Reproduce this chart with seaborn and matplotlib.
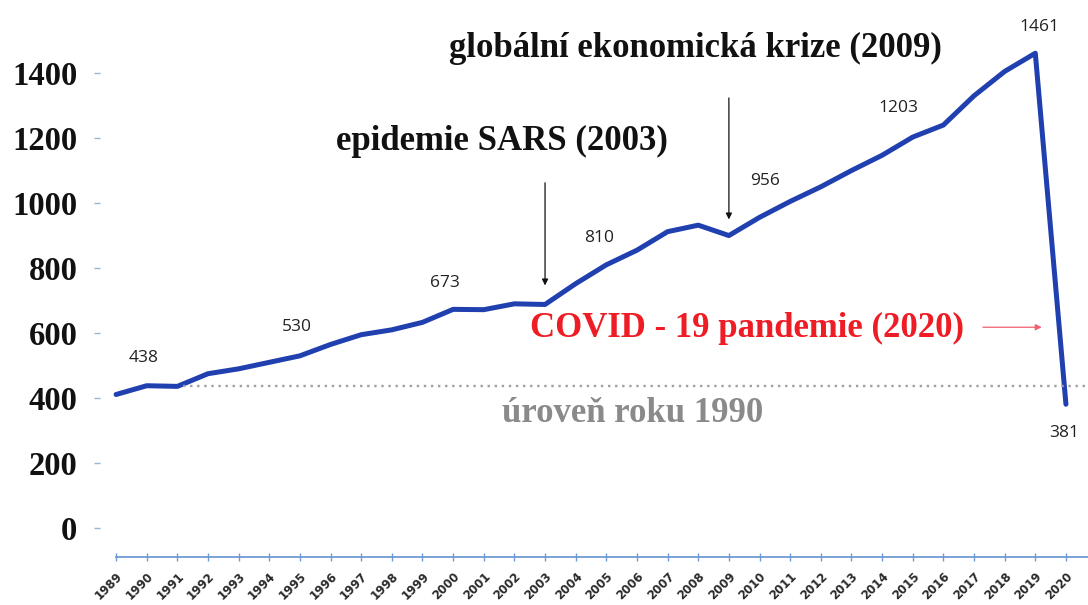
import numpy as np
import pandas as pd
import seaborn as sns
import matplotlib.pyplot as plt

years = list(range(1989, 2021))
values = [411, 438, 436, 475, 490, 510, 530, 565, 595, 610, 633, 673, 672, 690, 688,
          752, 810, 855, 912, 932, 900, 956, 1005, 1050, 1100, 1147, 1203, 1240, 1330,
          1405, 1461, 381]
labeled_years = [1990, 1995, 2000, 2005, 2010, 2015, 2019, 2020]
baseline = 438
y_ticks = [0, 200, 400, 600, 800, 1000, 1200, 1400]

df = pd.DataFrame({'Rok': years, 'Hodnota': values})

sns.set_style('white')
plt.rcParams['font.family'] = ['DejaVu Sans']

fig = plt.figure(figsize=(10.88, 6.05), dpi=100)
ax = fig.add_axes([0.0864, 0.0793, 0.9136, 0.9074])

sns.lineplot(data=df, x='Rok', y='Hodnota', ax=ax, color='#2140b0', linewidth=3.6,
             solid_capstyle='round', solid_joinstyle='round')

ax.set_xlim(1988.28, 2020.72)
ax.set_ylim(-89, 1600)

# baseline 1990
ax.plot([1991.2, 2020.72], [baseline, baseline], linestyle=(0, (1, 2)), color='#a0a0a0', linewidth=1.7)

# spines and ticks
for s in ['left', 'top', 'right']:
    ax.spines[s].set_visible(False)
ax.spines['bottom'].set_bounds(1989, 2020.72)
ax.spines['bottom'].set_color('#6f9ad6')
ax.spines['bottom'].set_linewidth(1.3)

ax.set_xticks(years)
ax.set_xticklabels([str(y) for y in years], rotation=45, ha='right', rotation_mode='anchor',
                   fontsize=8.5, fontweight='bold', color='#2a2a2a')
ax.tick_params(axis='x', bottom=True, direction='inout', length=6, width=1, color='#6f9ad6', pad=6)

ax.set_yticks(y_ticks)
ax.set_yticklabels([str(v) for v in y_ticks], family='Liberation Serif', fontweight='bold',
                   fontsize=23.5, color='#111111')
ax.tick_params(axis='y', direction='in', length=4.5, width=1, color='#9bb4d8', left=True, pad=12)
ax.set_xlabel('')
ax.set_ylabel('')

# data labels
offsets = {1990: (-2, 20), 1995: (-2, 21), 2000: (-6, 19), 2005: (-5, 19), 2010: (4, 26),
           2015: (-10, 21), 2019: (3, 19), 2020: (-1, -21)}
for y in labeled_years:
    v = values[years.index(y)]
    ax.annotate(str(v), (y, v), xytext=offsets[y], textcoords='offset points',
                ha='center', va='center', fontsize=12.5, family='Open Sans', color='#222222')

serif = 'Liberation Serif'
ax.text(2007.9, 1475, 'globální ekonomická krize (2009)', family=serif, fontweight='bold',
        fontsize=25, ha='center', va='center', color='#111111')
ax.annotate('', xy=(2009, 941), xytext=(2009, 1332),
            arrowprops=dict(arrowstyle='-|>', color='#111111', lw=0.9, mutation_scale=9))

ax.text(2001.6, 1190, 'epidemie SARS (2003)', family=serif, fontweight='bold',
        fontsize=25, ha='center', va='center', color='#111111')
ax.annotate('', xy=(2003, 738), xytext=(2003, 1071),
            arrowprops=dict(arrowstyle='-|>', color='#111111', lw=0.9, mutation_scale=9))

ax.text(2009.6, 614, 'COVID - 19 pandemie (2020)', family=serif, fontweight='bold',
        fontsize=25, ha='center', va='center', color='#ee1c25')
ax.annotate('', xy=(2019.3, 618), xytext=(2017.2, 618),
            arrowprops=dict(arrowstyle='-|>', color='#f06070', lw=0.9, mutation_scale=9))

ax.text(2005.87, 352, 'úroveň roku 1990', family=serif, fontweight='bold',
        fontsize=25, ha='center', va='center', color='#8a8a8a')

fig.savefig('out.png', dpi=100)
